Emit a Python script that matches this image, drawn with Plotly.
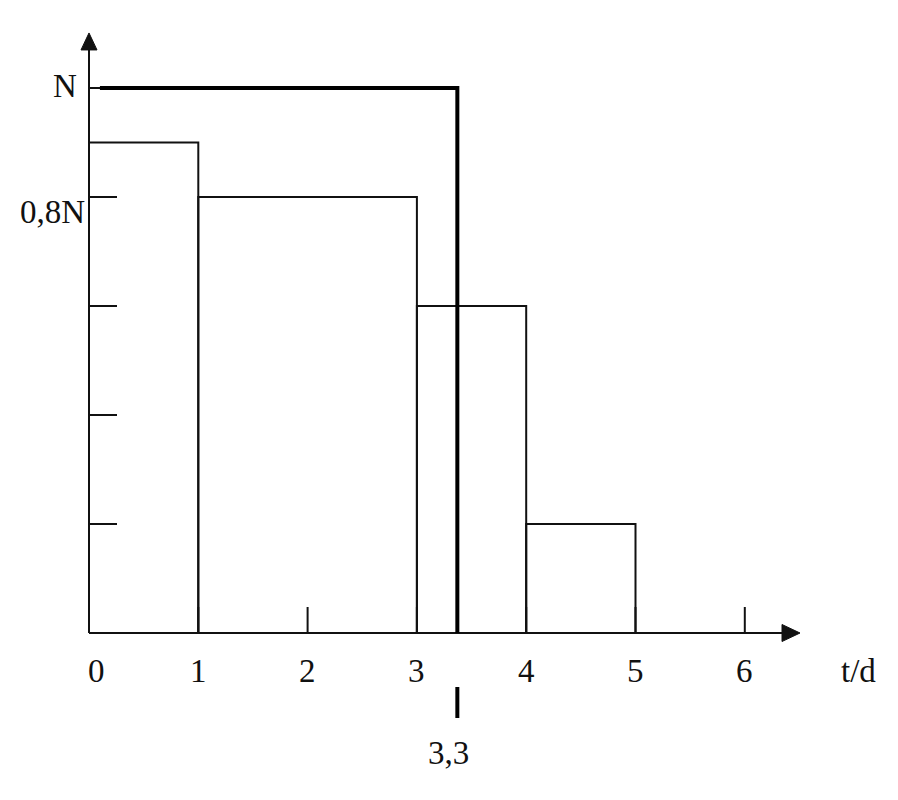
import plotly.graph_objects as go

# ---- data ----
bar_edges = [0, 1, 3, 4, 5]
bar_heights = [0.9, 0.8, 0.6, 0.2]
y_tick_values = [0.2, 0.4, 0.6, 0.8, 1.0]
y_tick_labels = {1.0: "N", 0.8: "0,8N"}
x_tick_values = [0, 1, 2, 3, 4, 5, 6]
x_tick_labels = ["0", "1", "2", "3", "4", "5", "6"]
tau = 3.37
tau_label = "3,3"
level_N = 1.0
thick_start = 0.1
x_axis_end = 6.505
y_axis_end = 1.101
x_title = "t/d"

# ---- geometry (pixels per unit) ----
W, H = 898, 800
page_offset = 8           # default body margin of the html page
ox, oy = 89 - page_offset, 633 - page_offset   # pixel position of origin in the figure
px_x = 109.3              # px per x unit
px_y = 545.0              # px per y unit
x_range = [-ox / px_x, (W - ox) / px_x]
y_range = [-(H - oy) / px_y, oy / px_y]

def dx(p):
    return p / px_x

def dy(p):
    return p / px_y

INK = "#111111"
FONT = dict(family="Liberation Serif, Times New Roman, serif", size=33, color="#111111")

fig = go.Figure()

# bars (outlined rectangles)
for i, h in enumerate(bar_heights):
    x0, x1 = bar_edges[i], bar_edges[i + 1]
    fig.add_trace(go.Scatter(x=[x0, x0, x1, x1], y=[0, h, h, 0], mode="lines",
                             line=dict(color=INK, width=2), hoverinfo="skip"))

# axes lines
fig.add_trace(go.Scatter(x=[0, x_axis_end - dx(16)], y=[0, 0], mode="lines",
                         line=dict(color=INK, width=2), hoverinfo="skip"))
fig.add_trace(go.Scatter(x=[0, 0], y=[0, y_axis_end - dy(16)], mode="lines",
                         line=dict(color=INK, width=2), hoverinfo="skip"))
# arrowheads
fig.add_trace(go.Scatter(
    x=[x_axis_end, x_axis_end - dx(18), x_axis_end - dx(18), x_axis_end],
    y=[0, dy(8.5), -dy(8.5), 0], mode="lines", fill="toself", fillcolor=INK,
    line=dict(color=INK, width=1), hoverinfo="skip"))
fig.add_trace(go.Scatter(
    x=[0, -dx(8), dx(8), 0],
    y=[y_axis_end, y_axis_end - dy(17), y_axis_end - dy(17), y_axis_end],
    mode="lines", fill="toself", fillcolor=INK,
    line=dict(color=INK, width=1), hoverinfo="skip"))

# y ticks
for v in y_tick_values:
    fig.add_trace(go.Scatter(x=[0, dx(28)], y=[v, v], mode="lines",
                             line=dict(color=INK, width=2), hoverinfo="skip"))
# x ticks
for v in x_tick_values[1:]:
    fig.add_trace(go.Scatter(x=[v, v], y=[0, dy(26)], mode="lines",
                             line=dict(color=INK, width=2), hoverinfo="skip"))

# thick line at N ending at tau
fig.add_trace(go.Scatter(x=[thick_start, tau, tau], y=[level_N, level_N, 0], mode="lines",
                         line=dict(color="#000000", width=4), hoverinfo="skip"))
# small mark under axis at tau
fig.add_trace(go.Scatter(x=[tau, tau], y=[-dy(54), -dy(85)], mode="lines",
                         line=dict(color="#000000", width=4), hoverinfo="skip"))

annotations = []
for v, t in zip(x_tick_values, x_tick_labels):
    annotations.append(dict(x=v, y=-dy(38), text=t, showarrow=False, font=FONT,
                            xanchor="center", yanchor="middle",
                            xshift=7 if v == 0 else 0))
annotations.append(dict(x=x_axis_end + dx(58), y=-dy(38), text=x_title, showarrow=False,
                        font=FONT, xanchor="center", yanchor="middle"))
annotations.append(dict(x=tau, y=-dy(120), text=tau_label, showarrow=False, font=FONT,
                        xanchor="center", yanchor="middle", xshift=-9))
annotations.append(dict(x=-dx(24), y=level_N, text=y_tick_labels[1.0], showarrow=False,
                        font=FONT, xanchor="center", yanchor="middle", yshift=2))
annotations.append(dict(x=-dx(2), y=0.8 - dy(15), text=y_tick_labels[0.8], showarrow=False,
                        font=FONT, xanchor="right", yanchor="middle"))

fig.update_layout(
    width=W, height=H,
    margin=dict(l=0, r=0, t=0, b=0),
    paper_bgcolor="white", plot_bgcolor="white",
    showlegend=False,
    xaxis=dict(range=x_range, visible=False, fixedrange=True),
    yaxis=dict(range=y_range, visible=False, fixedrange=True),
    annotations=annotations,
)

fig.write_html("out.html")
